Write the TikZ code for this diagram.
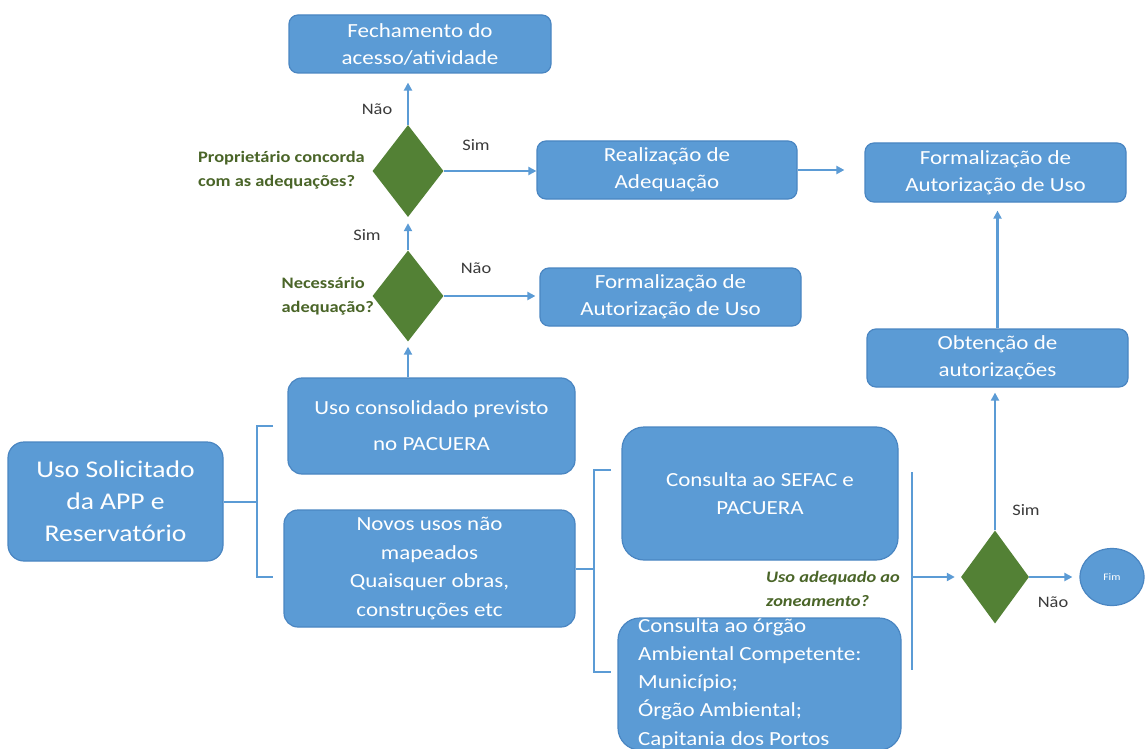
\documentclass[tikz,border=0pt]{standalone}
\usepackage{fontspec}
\setmainfont{Carlito}[FakeStretch=1.15]
\usetikzlibrary{shapes.geometric,arrows.meta}
\definecolor{boxblue}{HTML}{5B9BD5}
\definecolor{boxedge}{HTML}{4A86C2}
\definecolor{linkblue}{HTML}{5B9BD5}
\definecolor{dgreen}{HTML}{538135}
\definecolor{lgreen}{HTML}{4A6528}
\definecolor{lbl}{HTML}{3A3A3A}
\begin{document}
\begin{tikzpicture}[x=1pt,y=-1pt,
 box/.style={draw=boxedge, line width=1.2pt, fill=boxblue, rounded corners=9pt, text=white, align=center, inner sep=0pt, font=\fontsize{20}{27}\selectfont},
 dec/.style={diamond, fill=dgreen, draw=none, inner sep=0pt},
 link/.style={draw=linkblue, line width=2.6pt, -{Triangle[length=8pt,width=8pt]}},
 brk/.style={draw=linkblue, line width=2pt},
 yn/.style={text=lbl, font=\fontsize{16}{20}\selectfont, inner sep=0pt},
 qlab/.style={text=lgreen, font=\bfseries\fontsize{16}{24}\selectfont, inner sep=0pt, align=left}
]
\fill[white] (0,0) rectangle (1146,749);
\useasboundingbox (0,0) rectangle (1146,749);

% boxes
\node[box, minimum width=262pt, minimum height=58pt] (fech) at (420,44) {Fechamento do\\acesso/atividade};
\node[box, minimum width=260pt, minimum height=58pt] (real) at (667,170) {Realização de\\Adequação};
\node[box, minimum width=261pt, minimum height=59pt] (formT) at (995.5,172.5) {Formalização de\\Autorização de Uso};
\node[box, minimum width=261pt, minimum height=58pt] (formM) at (670.5,297) {Formalização de\\Autorização de Uso};
\node[box, minimum width=261pt, minimum height=58pt] (obt) at (997.5,358) {Obtenção de\\autorizações};
\node[box, rounded corners=14pt, minimum width=287pt, minimum height=96pt] (usocons) at (431.5,426) {Uso consolidado previsto\\[9pt]no PACUERA};
\node[box, rounded corners=16pt, minimum width=215pt, minimum height=119pt, font=\fontsize{24}{32}\selectfont] (usosol) at (115.5,501.5) {Uso Solicitado\\da APP e\\Reservatório};
\node[box, rounded corners=14pt, minimum width=291pt, minimum height=117pt, font=\fontsize{20}{28.5}\selectfont] (novos) at (429.5,568.5) {Novos usos não\\mapeados\\Quaisquer obras,\\construções etc};
\node[box, rounded corners=22pt, minimum width=276pt, minimum height=133pt, font=\fontsize{20}{28}\selectfont] (sefac) at (760,493.5) {Consulta ao SEFAC e\\PACUERA};
\node[box, rounded corners=22pt, minimum width=283pt, minimum height=132pt] (orgao) at (759.5,684) {};
\node[text=white, inner sep=0pt, anchor=north west, align=left, font=\fontsize{20}{28.3}\selectfont] (orgaotxt) at (638,618) {Consulta ao órgão\\Ambiental Competente:\\Município;\\Órgão Ambiental;\\Capitania dos Portos};

% decisions
\node[dec, minimum width=71pt, minimum height=92pt] (d1) at (408,171) {};
\node[dec, minimum width=71pt, minimum height=91pt] (d2) at (408,296) {};
\node[dec, minimum width=68pt, minimum height=93pt] (d3) at (995,577) {};
\node[ellipse, fill=boxblue, draw=boxedge, line width=1.2pt, minimum width=64pt, minimum height=57pt, inner sep=0pt, text=white, font=\fontsize{10}{12}\selectfont] (fim) at (1112,577) {Fim};

% labels
\node[yn] (nao1) at (377,109) {Não};
\node[yn] (sim1) at (476,145) {Sim};
\node[yn] (sim2) at (367,235) {Sim};
\node[yn] (nao2) at (476,268) {Não};
\node[yn] (sim3) at (1026,510) {Sim};
\node[yn] (nao3) at (1053,602) {Não};
\node[qlab, anchor=east] (q1) at (365,170) {Proprietário concorda\\com as adequações?};
\node[qlab, anchor=east] (q2) at (374,296) {Necessário\\adequação?};
\node[qlab, anchor=west, font=\bfseries\itshape\fontsize{16}{24}\selectfont] (q3) at (766,589) {Uso adequado ao\\zoneamento?};

% brackets
\coordinate (b1t) at (257,426);
\coordinate (b1b) at (257,577);
\coordinate (b1tr) at (273,426);
\coordinate (b1br) at (273,577);
\draw[brk] (b1tr) -- (b1t) -- (b1b) -- (b1br);
\draw[brk] (usosol.east) -- (usosol.east -| b1t);
\coordinate (b2t) at (594,470);
\coordinate (b2b) at (594,672);
\coordinate (b2tr) at (611,470);
\coordinate (b2br) at (611,672);
\draw[brk] (b2tr) -- (b2t) -- (b2b) -- (b2br);
\draw[brk] (novos.east) -- (novos.east -| b2t);
\coordinate (vt) at (912,472);
\coordinate (vb) at (912,670);
\draw[brk] (vt) -- (vb);

% arrows
\draw[link, shorten >=9pt] (d1.north) -- (d1.north |- fech.south);
\draw[link] (d1.east) -- (d1.east -| real.west);
\draw[link, shorten >=20pt] (real.east) -- (real.east -| formT.west);
\draw[link, shorten >=6pt] (d2.north) -- (d1.south);
\draw[link, shorten >=4pt] (d2.east) -- (d2.east -| formM.west);
\draw[link, shorten >=5pt] (d2.south |- usocons.north) -- (d2.south);
\draw[link, shorten >=8pt] (obt.north) -- (obt.north |- formT.south);
\draw[link, shorten >=5pt] (d3.north) -- (d3.north |- obt.south);
\draw[link, shorten >=6pt] (vt |- d3.west) -- (d3.west);
\draw[link, shorten >=7pt] (d3.east) -- (fim.west);
\end{tikzpicture}
\end{document}
